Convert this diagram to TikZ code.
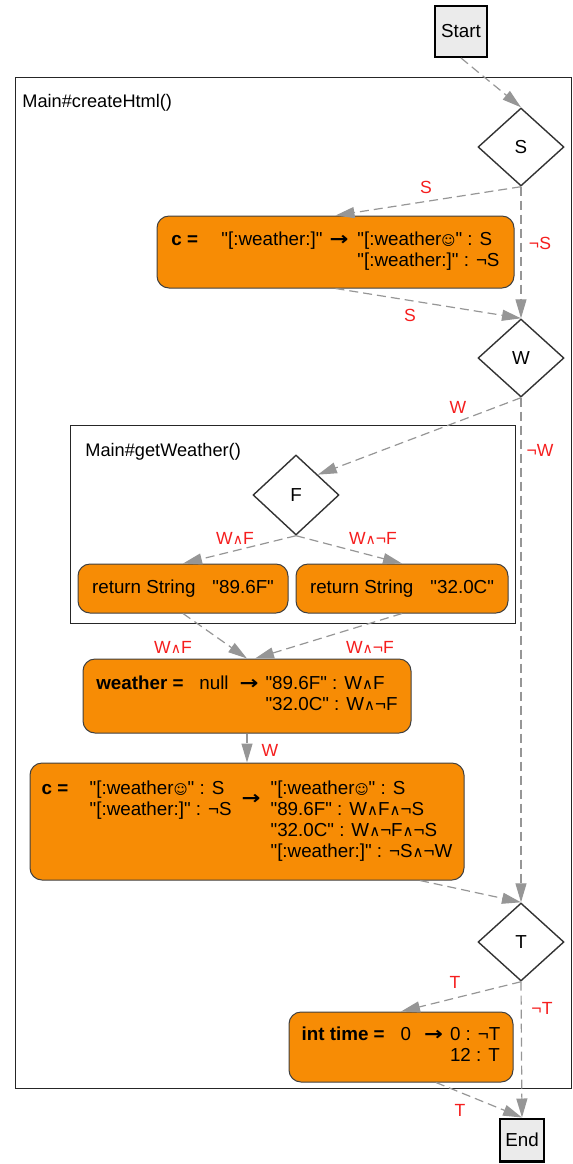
\documentclass[tikz,border=0pt]{standalone}
\usepackage{fontspec}
\setmainfont{Liberation Sans}[Ligatures=TeXOff]
\newfontfamily\dv{DejaVu Sans}
\usepackage{graphicx}
\usetikzlibrary{shapes.geometric,arrows.meta,calc}
\definecolor{stmtfill}{RGB}{247,140,5}
\definecolor{termfill}{RGB}{235,235,235}
\definecolor{edgegray}{RGB}{150,150,150}
\definecolor{lblred}{RGB}{245,30,30}
\newcommand\wg{\scalebox{0.8}{\dv ∧}}
\newcommand\smil{\scalebox{0.72}{\dv ☺}}
\newcommand\arr{\scalebox{1.2}[1]{\dv\bfseries →}}
\begin{document}
\begin{tikzpicture}[x=0.5pt,y=-0.5pt,
  term/.style={draw=black, line width=1.2pt, fill=termfill, inner sep=0pt, font=\fontsize{9.4}{11}\selectfont},
  dec/.style={diamond, draw=black!80, line width=0.7pt, fill=white, inner sep=0pt, minimum width=43pt, minimum height=39pt, font=\fontsize{9.4}{11}\selectfont},
  stmt/.style={rectangle, rounded corners=6pt, draw=black!75, line width=0.5pt, fill=stmtfill, inner sep=0pt, font=\fontsize{9.4}{10.5}\selectfont},
  cluster/.style={draw=black!85, line width=0.6pt, inner sep=0pt, anchor=north west},
  clbl/.style={anchor=west, inner sep=0pt, font=\fontsize{9.1}{11}\selectfont},
  flow/.style={draw=edgegray, line width=0.6pt, dash pattern=on 4.5pt off 2.5pt, -{Triangle[length=9.5pt,width=5.5pt]}},
  lbl/.style={text=lblred, inner sep=0pt, font=\fontsize{8.8}{10}\selectfont}]
\useasboundingbox (0,0) rectangle (573,1164);

% clusters
\node[cluster, minimum width=278pt, minimum height=505.5pt] (outer) at (15,77) {};
\node[clbl] (outerl) at (22,103) {Main\#createHtml()};
\node[cluster, minimum width=222.5pt, minimum height=99pt] (inner) at (70,425) {};
\node[clbl] (innerl) at (85,452) {Main\#getWeather()};

% nodes
\node[term, minimum width=26pt, minimum height=25.3pt] (start) at (461,31.5) {Start};
\node[dec] (S) at (521,147) {S};
\node[stmt, minimum width=178.5pt, minimum height=36pt] (c1) at (335.5,252)
  {\makebox[25pt][l]{\textbf{c =}}\begin{tabular}[t]{@{}l@{}}"[:weather:]"\end{tabular}\hspace{3.5pt}\arr\hspace{4.5pt}\begin{tabular}[t]{@{}l@{}}"[:weather\smil" : S\\ "[:weather:]" : ¬S\end{tabular}};
\node[dec] (W) at (521,358) {W};
\node[dec, minimum height=40pt] (F) at (296,495) {F};
\node[stmt, minimum width=105pt, minimum height=24.5pt] (r1) at (183,588.5) {return String\hspace{8.5pt}"89.6F"};
\node[stmt, minimum width=106pt, minimum height=24.5pt] (r2) at (402,588.5) {return String\hspace{8.5pt}"32.0C"};
\node[stmt, minimum width=164pt, minimum height=37pt] (wth) at (247,696)
  {\makebox[51.5pt][l]{\textbf{weather =}}null\hspace{5.5pt}\arr\hspace{3.5pt}\begin{tabular}[t]{@{}l@{}}"89.6F" : W\wg F\\ "32.0C" : W\wg ¬F\end{tabular}};
\node[stmt, minimum width=217pt, minimum height=58.5pt] (c2) at (247,821.5)
  {\makebox[24pt][l]{\textbf{c =}}\begin{tabular}[t]{@{}l@{}}"[:weather\smil" : S\\ "[:weather:]" : ¬S\end{tabular}\hspace{5pt}\raisebox{-5.25pt}{\arr}\hspace{5pt}\begin{tabular}[t]{@{}l@{}}"[:weather\smil" : S\\ "89.6F" : W\wg F\wg ¬S\\ "32.0C" : W\wg ¬F\wg ¬S\\ "[:weather:]" : ¬S\wg ¬W\end{tabular}};
\node[dec] (T) at (521,942) {T};
\node[stmt, minimum width=112pt, minimum height=35pt] (tm) at (401,1047)
  {\makebox[49.5pt][l]{\textbf{int time =}}0\hspace{6.5pt}\arr\hspace{3.5pt}\begin{tabular}[t]{@{}l@{}}0 : ¬T\\ 12 : T\end{tabular}};
\node[term, minimum width=21.8pt, minimum height=21.3pt] (end) at (522,1140) {End};

% connectors
\draw[flow] (start.south) -- (S.north);
\draw[flow] (S.south) -- (c1.north);
\draw[flow] (S.south) -- (W.north);
\draw[flow] (c1.south) -- (W.north);
\draw[flow] (W.south) -- (F.north east);
\draw[flow] (W.south) -- (T.north);
\draw[flow] (F.south) -- (r1.north);
\draw[flow] (F.south) -- (r2.north);
\draw[flow] (r1.south) -- (wth.north);
\draw[flow] (r2.south) -- ($(wth.north)+(8,0)$);
\draw[flow] (wth.south) -- (c2.north);
\coordinate (c2o) at ($(c2.south)+(173,0)$);
\draw[flow] (c2o) -- (T.north);
\draw[flow] (T.south) -- (tm.north);
\draw[flow] (T.south) -- (end.north);
\coordinate (tmo) at ($(tm.south)+(35,0)$);
\draw[flow] (tmo) -- (end.north);

% labels
\node[lbl] (l1) at (426,187) {S};
\node[lbl] (l2) at (540,243) {¬S};
\node[lbl] (l3) at (410,315) {S};
\node[lbl] (l4) at (458,407) {W};
\node[lbl] (l5) at (540,450) {¬W};
\node[lbl] (l6) at (235,538) {W\wg F};
\node[lbl] (l7) at (373,538) {W\wg ¬F};
\node[lbl] (l8) at (173,647) {W\wg F};
\node[lbl] (l9) at (370,647) {W\wg ¬F};
\node[lbl] (l10) at (270,750) {W};
\node[lbl] (l11) at (455,982) {T};
\node[lbl] (l12) at (542,1008) {¬T};
\node[lbl] (l13) at (460,1110) {T};
\end{tikzpicture}
\end{document}
